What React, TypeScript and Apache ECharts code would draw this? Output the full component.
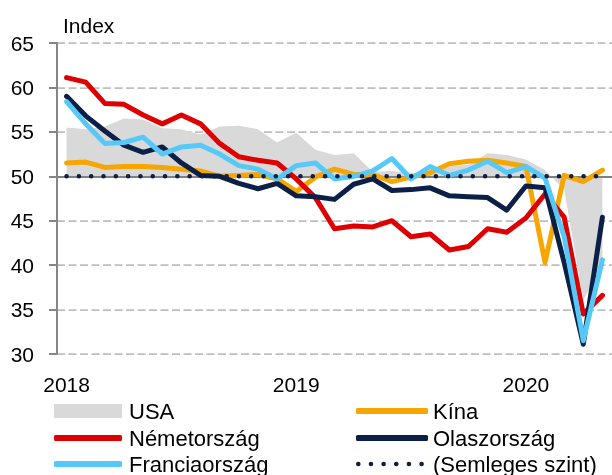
import React, { useEffect, useRef } from "react";
import * as echarts from "echarts";

const months = [
  "2018-01", "2018-02", "2018-03", "2018-04", "2018-05", "2018-06",
  "2018-07", "2018-08", "2018-09", "2018-10", "2018-11", "2018-12",
  "2019-01", "2019-02", "2019-03", "2019-04", "2019-05", "2019-06",
  "2019-07", "2019-08", "2019-09", "2019-10", "2019-11", "2019-12",
  "2020-01", "2020-02", "2020-03", "2020-04", "2020-05",
];

const usa = [
  55.5, 55.3, 55.6, 56.5, 56.4, 55.4, 55.3, 54.7, 55.6, 55.7, 55.3, 53.8,
  54.9, 53.0, 52.4, 52.6, 50.5, 50.6, 50.4, 50.3, 51.1, 51.3, 52.6, 52.4,
  51.9, 50.7, 48.5, 36.1, 39.8,
];
const china = [
  51.5, 51.6, 51.0, 51.1, 51.1, 51.0, 50.8, 50.6, 50.0, 50.1, 50.2, 49.7,
  48.3, 49.9, 50.8, 50.2, 50.2, 49.4, 49.9, 50.4, 51.4, 51.7, 51.8, 51.5,
  51.1, 40.3, 50.1, 49.4, 50.7,
];
const germany = [
  61.1, 60.6, 58.2, 58.1, 56.9, 55.9, 56.9, 55.9, 53.7, 52.2, 51.8, 51.5,
  49.7, 47.6, 44.1, 44.4, 44.3, 45.0, 43.2, 43.5, 41.7, 42.1, 44.1, 43.7,
  45.3, 48.0, 45.4, 34.5, 36.6,
];
const italy = [
  59.0, 56.8, 55.1, 53.5, 52.7, 53.3, 51.5, 50.1, 50.0, 49.2, 48.6, 49.2,
  47.8, 47.7, 47.4, 49.1, 49.7, 48.4, 48.5, 48.7, 47.8, 47.7, 47.6, 46.2,
  48.9, 48.7, 40.3, 31.1, 45.4,
];
const france = [
  58.4, 55.9, 53.7, 53.8, 54.4, 52.5, 53.3, 53.5, 52.5, 51.2, 50.8, 49.7,
  51.2, 51.5, 49.7, 50.0, 50.6, 52.0, 49.7, 51.1, 50.1, 50.7, 51.7, 50.4,
  51.1, 49.8, 43.2, 31.5, 40.6,
];
const NEUTRAL_LEVEL = 50;
const neutral = months.map(() => NEUTRAL_LEVEL);

const Y_MIN = 30;
const Y_MAX = 65;
const Y_STEP = 5;

const FONT = "'Liberation Sans', Arial, sans-serif";

const COLORS = {
  usa: "#D9D9D9",
  china: "#F7A600",
  germany: "#DE0000",
  italy: "#0C1F47",
  france: "#57C9F8",
  neutral: "#0C1F47",
};

// dotted legend swatch: six round dots
function dotsPath(n: number, r: number, step: number): string {
  let d = "path://";
  for (let k = 0; k < n; k++) {
    const cx = r + k * step;
    d += `M${cx - r},${r} a${r},${r} 0 1,0 ${2 * r},0 a${r},${r} 0 1,0 ${-2 * r},0 Z `;
  }
  return d.trim();
}

export default function App() {
  const ref = useRef<HTMLDivElement>(null);

  useEffect(() => {
    if (!ref.current) return;
    const chart = echarts.init(ref.current, null, { renderer: "svg" });

    const lineSeries = (name: string, data: number[], color: string) => ({
      name,
      type: "line",
      data,
      z: 3,
      symbol: "none",
      showSymbol: false,
      silent: true,
      emphasis: { disabled: true },
      itemStyle: { color },
      lineStyle: { color, width: 5, cap: "round", join: "round" },
    });

    const legendItem = (
      name: string,
      left: number,
      top: number,
      icon: string,
      w: number,
      h: number,
      pad: number
    ) => ({
      left,
      top,
      padding: 0,
      orient: "horizontal",
      itemWidth: w,
      itemHeight: h,
      selectedMode: false,
      icon,
      textStyle: {
        fontFamily: FONT,
        fontSize: 22,
        color: "#000",
        padding: [0, 0, 0, pad],
      },
      data: [name],
    });

    const rowTop = [400, 427, 453];

    chart.setOption({
      animation: false,
      textStyle: { fontFamily: FONT },
      title: {
        text: "Index",
        left: 58,
        top: 10,
        textStyle: { fontFamily: FONT, fontSize: 21, fontWeight: "normal", color: "#000" },
      },
      grid: { left: 57, right: 0, top: 43, bottom: 121 },
      xAxis: {
        type: "category",
        data: months,
        boundaryGap: true,
        axisLine: { show: false },
        axisTick: { show: false },
        splitLine: { show: false },
        axisLabel: {
          interval: (i: number) => i % 12 === 0,
          formatter: (v: string) => v.slice(0, 4),
          fontSize: 21,
          color: "#000",
          margin: 20,
          fontFamily: FONT,
        },
      },
      yAxis: {
        type: "value",
        min: Y_MIN,
        max: Y_MAX,
        interval: Y_STEP,
        axisLine: { show: true, lineStyle: { color: "#868686", width: 2 } },
        axisTick: { show: true, length: 8, lineStyle: { color: "#868686", width: 2 } },
        axisLabel: { fontSize: 21, color: "#000", margin: 23, fontFamily: FONT },
        splitLine: {
          show: true,
          lineStyle: { color: "#BFBFBF", width: 1.75, type: [8, 3.5] },
        },
      },
      legend: [
        legendItem("USA", 54, rowTop[0], "rect", 68, 14, 2),
        legendItem("Németország", 54, rowTop[1], "roundRect", 68, 6, 2),
        legendItem("Franciaország", 54, rowTop[2], "roundRect", 68, 6, 2),
        legendItem("Kína", 356, rowTop[0], "roundRect", 72, 6, 0),
        legendItem("Olaszország", 356, rowTop[1], "roundRect", 72, 6, 0),
        legendItem("(Semleges szint)", 356, rowTop[2], dotsPath(6, 2.3, 12.66), 68, 4.6, 4),
      ],
      series: [
        {
          name: "USA",
          type: "line",
          data: usa,
          z: 1,
          symbol: "none",
          showSymbol: false,
          silent: true,
          emphasis: { disabled: true },
          itemStyle: { color: COLORS.usa },
          lineStyle: { width: 0, color: COLORS.usa },
          areaStyle: { color: COLORS.usa, opacity: 1, origin: NEUTRAL_LEVEL },
          markLine: {
            silent: true,
            z: 2,
            symbol: ["none", "none"],
            label: { show: false },
            lineStyle: { color: "#808080", width: 2, type: "solid" },
            data: [{ yAxis: NEUTRAL_LEVEL }],
          },
        },
        lineSeries("Kína", china, COLORS.china),
        lineSeries("Németország", germany, COLORS.germany),
        lineSeries("Olaszország", italy, COLORS.italy),
        lineSeries("Franciaország", france, COLORS.france),
        {
          name: "(Semleges szint)",
          type: "line",
          data: neutral,
          z: 4,
          symbol: "none",
          showSymbol: false,
          silent: true,
          emphasis: { disabled: true },
          itemStyle: { color: COLORS.neutral },
          lineStyle: { color: COLORS.neutral, width: 4.6, type: [0.01, 12.3], cap: "round" },
        },
      ],
    });

    return () => chart.dispose();
  }, []);

  return (
    <div
      ref={ref}
      style={{ position: "fixed", left: 0, top: 0, width: 612, height: 475 }}
    />
  );
}
